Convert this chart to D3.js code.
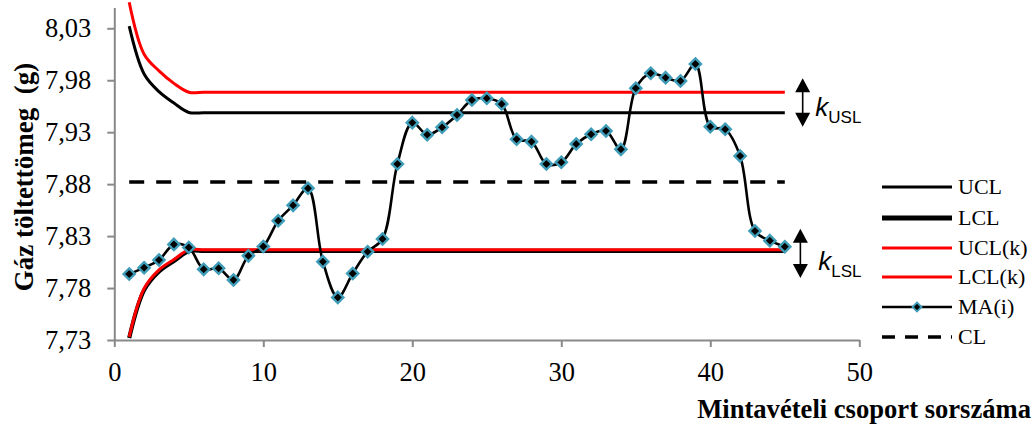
<!DOCTYPE html>
<html lang="hu">
<head>
  <meta charset="UTF-8">
  <title>MA(i) szabályozó kártya</title>
  <script src="https://d3js.org/d3.v7.min.js"></script>
  <style>
    body {
      margin: 0;
      background-color: #fff;
    }
    text {
      font-family: "Liberation Serif", "Times New Roman", serif;
      fill: #000;
    }
  </style>
</head>
<body>
  <script>
    const width = 1036;
    const height = 429;

    // Mintavételi csoport sorszáma
    const samples = [1, 2, 3, 4, 5, 6, 7, 8, 9, 10, 11, 12, 13, 14, 15, 16, 17, 18, 19, 20, 21, 22, 23,
      24, 25, 26, 27, 28, 29, 30, 31, 32, 33, 34, 35, 36, 37, 38, 39, 40, 41, 42, 43, 44, 45];

    // MA(i) mozgóátlag
    const maValues = [7.7935, 7.7996, 7.807, 7.822, 7.819, 7.798, 7.799, 7.7878, 7.811, 7.820,
      7.8448, 7.8596, 7.876, 7.8054, 7.771, 7.794, 7.815, 7.8272, 7.8994, 7.9392,
      7.9276, 7.9347, 7.9466, 7.961, 7.9626, 7.9571, 7.9232, 7.9209, 7.8994, 7.901,
      7.9186, 7.928, 7.9312, 7.9135, 7.9723, 7.9867, 7.9825, 7.9793, 7.9956, 7.9353,
      7.9328, 7.9071, 7.8349, 7.8256, 7.8198];

    const ucl = [8.032, 7.986, 7.969, 7.958, 7.949, 7.9488, 7.9488, 7.9488, 7.9488, 7.9488,
      7.9488, 7.9488, 7.9488, 7.9488, 7.9488, 7.9488, 7.9488, 7.9488, 7.9488, 7.9488,
      7.9488, 7.9488, 7.9488, 7.9488, 7.9488, 7.9488, 7.9488, 7.9488, 7.9488, 7.9488,
      7.9488, 7.9488, 7.9488, 7.9488, 7.9488, 7.9488, 7.9488, 7.9488, 7.9488, 7.9488,
      7.9488, 7.9488, 7.9488, 7.9488, 7.9488];

    const lcl = [7.732, 7.778, 7.796, 7.806, 7.8155, 7.8157, 7.8157, 7.8157, 7.8157, 7.8157,
      7.8157, 7.8157, 7.8157, 7.8157, 7.8157, 7.8157, 7.8157, 7.8157, 7.8157, 7.8157,
      7.8157, 7.8157, 7.8157, 7.8157, 7.8157, 7.8157, 7.8157, 7.8157, 7.8157, 7.8157,
      7.8157, 7.8157, 7.8157, 7.8157, 7.8157, 7.8157, 7.8157, 7.8157, 7.8157, 7.8157,
      7.8157, 7.8157, 7.8157, 7.8157, 7.8157];

    const uclK = [8.055, 8.005, 7.989, 7.977, 7.9685, 7.9684, 7.9684, 7.9684, 7.9684, 7.9684,
      7.9684, 7.9684, 7.9684, 7.9684, 7.9684, 7.9684, 7.9684, 7.9684, 7.9684, 7.9684,
      7.9684, 7.9684, 7.9684, 7.9684, 7.9684, 7.9684, 7.9684, 7.9684, 7.9684, 7.9684,
      7.9684, 7.9684, 7.9684, 7.9684, 7.9684, 7.9684, 7.9684, 7.9684, 7.9684, 7.9684,
      7.9684, 7.9684, 7.9684, 7.9684, 7.9684];

    const lclK = [7.733, 7.7795, 7.7975, 7.8075, 7.8167, 7.8169, 7.8169, 7.8169, 7.8169, 7.8169,
      7.8169, 7.8169, 7.8169, 7.8169, 7.8169, 7.8169, 7.8169, 7.8169, 7.8169, 7.8169,
      7.8169, 7.8169, 7.8169, 7.8169, 7.8169, 7.8169, 7.8169, 7.8169, 7.8169, 7.8169,
      7.8169, 7.8169, 7.8169, 7.8169, 7.8169, 7.8169, 7.8169, 7.8169, 7.8169, 7.8169,
      7.8169, 7.8169, 7.8169, 7.8169, 7.8169];

    const clValue = 7.882;

    const xTicks = [0, 10, 20, 30, 40, 50];
    const yTicks = [7.73, 7.78, 7.83, 7.88, 7.93, 7.98, 8.03];

    const legendLabels = ["UCL", "LCL", "UCL(k)", "LCL(k)", "MA(i)", "CL"];

    const svg = d3.select("body")
      .append("svg")
      .attr("width", width)
      .attr("height", height);

    const x = d3.scaleLinear().domain([0, 50]).range([114.3, 859.3]);
    const y = d3.scaleLinear().domain([7.73, 8.05]).range([340, 7.5]);

    const huFormat = d3.formatLocale({ decimal: ",", thousands: " ", grouping: [3], currency: ["", " Ft"] }).format(".2f");

    const axisColor = "#898989";

    // axes
    const yAxis = svg.append("g")
      .attr("transform", `translate(${x(0)},0)`)
      .call(d3.axisLeft(y).tickValues(yTicks).tickSize(7).tickSizeOuter(0).tickPadding(16).tickFormat(huFormat));

    const xAxis = svg.append("g")
      .attr("transform", `translate(0,${y(7.73)})`)
      .call(d3.axisBottom(x).tickValues(xTicks).tickSize(7).tickSizeOuter(0).tickPadding(15));

    [xAxis, yAxis].forEach(g => {
      g.select(".domain").attr("stroke", axisColor).attr("stroke-width", 2);
      g.selectAll(".tick line").attr("stroke", axisColor).attr("stroke-width", 2);
      g.selectAll(".tick text")
        .attr("fill", "#000")
        .style("font-family", '"Liberation Serif", serif')
        .style("font-size", "26.5px");
    });

    const smooth = d3.line()
      .x(d => x(d[0]))
      .y(d => y(d[1]))
      .curve(d3.curveCatmullRom.alpha(0.5));

    const zipped = vals => samples.map((s, i) => [s, vals[i]]);

    const series = [
      { vals: ucl, color: "#000", w: 3 },
      { vals: lcl, color: "#000", w: 4.2 },
      { vals: uclK, color: "#ff0000", w: 3 },
      { vals: lclK, color: "#ff0000", w: 3 }
    ];

    series.forEach(s => {
      svg.append("path")
        .datum(zipped(s.vals))
        .attr("d", smooth)
        .attr("fill", "none")
        .attr("stroke", s.color)
        .attr("stroke-width", s.w);
    });

    // MA(i)
    svg.append("path")
      .datum(zipped(maValues))
      .attr("d", smooth)
      .attr("fill", "none")
      .attr("stroke", "#000")
      .attr("stroke-width", 2.6);

    const diamond = r => `M0,${-r}L${r},0L0,${r}L${-r},0Z`;

    svg.selectAll(".marker")
      .data(zipped(maValues))
      .enter().append("path")
      .attr("class", "marker")
      .attr("d", diamond(5.6))
      .attr("transform", d => `translate(${x(d[0])},${y(d[1])})`)
      .attr("fill", "#000")
      .attr("stroke", "#3f9db8")
      .attr("stroke-width", 2.4);

    // CL
    svg.append("line")
      .attr("x1", x(samples[0]))
      .attr("x2", x(samples[samples.length - 1]))
      .attr("y1", y(clValue))
      .attr("y2", y(clValue))
      .attr("stroke", "#000")
      .attr("stroke-width", 3.5)
      .attr("stroke-dasharray", "15,12");

    // k annotations
    const arrow = (cx, y1, y2) => {
      const g = svg.append("g");
      g.append("line")
        .attr("x1", cx).attr("x2", cx)
        .attr("y1", y1 + 10).attr("y2", y2 - 10)
        .attr("stroke", "#000").attr("stroke-width", 1.6);
      g.append("path")
        .attr("d", `M${cx},${y1}L${cx + 7.5},${y1 + 14}L${cx - 7.5},${y1 + 14}Z`)
        .attr("fill", "#000");
      g.append("path")
        .attr("d", `M${cx},${y2}L${cx + 7.5},${y2 - 14}L${cx - 7.5},${y2 - 14}Z`)
        .attr("fill", "#000");
    };

    const kLabel = (kx, base, sub) => {
      const t = svg.append("text")
        .attr("x", kx)
        .attr("y", base)
        .style("font-family", '"Liberation Sans", Arial, sans-serif')
        .style("font-size", "26px");
      t.append("tspan").style("font-style", "italic").text("k");
      t.append("tspan")
        .attr("dy", 6.5)
        .style("font-size", "17px")
        .text(sub);
    };

    const arrowX = x(46.2);
    arrow(arrowX, y(uclK[5]) - 14, y(ucl[5]) + 14);
    kLabel(x(47.05), (y(uclK[5]) + y(ucl[5])) / 2 + 14, "USL");

    arrow(arrowX - 2.3, y(lclK[5]) - 21, y(lcl[5]) + 27);
    kLabel(x(47.25), y(lcl[5]) + 19.5, "LSL");

    // axis titles
    svg.append("text")
      .attr("transform", "translate(33,177) rotate(-90)")
      .attr("text-anchor", "middle")
      .style("font-size", "27px")
      .style("font-weight", "bold")
      .style("white-space", "pre")
      .text("Gáz töltettömeg  (g)");

    svg.append("text")
      .attr("x", 1031)
      .attr("y", 418)
      .attr("text-anchor", "end")
      .style("font-size", "26.6px")
      .style("font-weight", "bold")
      .text("Mintavételi csoport sorszáma");

    // legend
    const legend = svg.append("g");
    const rowY = [187, 218, 248, 277, 307, 337];
    const legendStyle = [
      { color: "#000", w: 3 },
      { color: "#000", w: 5 },
      { color: "#ff0000", w: 3 },
      { color: "#ff0000", w: 3 },
      { color: "#000", w: 2.6, marker: true },
      { color: "#000", w: 3.5, dash: "13,10" }
    ];

    legendLabels.forEach((label, i) => {
      const st = legendStyle[i];
      legend.append("line")
        .attr("x1", 882).attr("x2", 952)
        .attr("y1", rowY[i]).attr("y2", rowY[i])
        .attr("stroke", st.color)
        .attr("stroke-width", st.w)
        .attr("stroke-dasharray", st.dash || null);
      if (st.marker) {
        legend.append("path")
          .attr("d", diamond(4.5))
          .attr("transform", `translate(917,${rowY[i]})`)
          .attr("fill", "#000")
          .attr("stroke", "#3f9db8")
          .attr("stroke-width", 1.8);
      }
      legend.append("text")
        .attr("x", 958)
        .attr("y", rowY[i] + 7)
        .style("font-size", "22px")
        .text(label);
    });
  </script>
</body>
</html>
